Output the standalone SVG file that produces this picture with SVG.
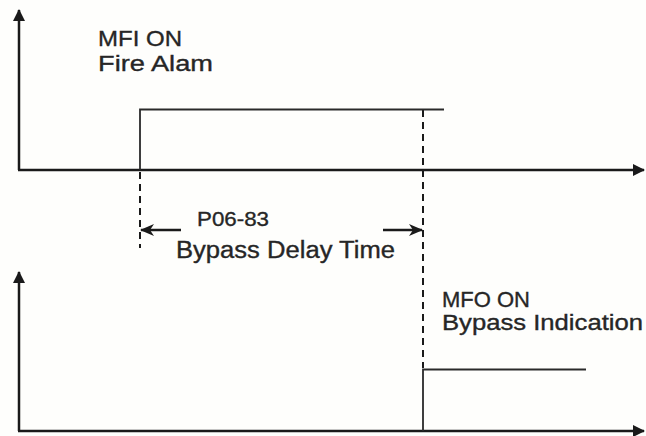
<svg xmlns="http://www.w3.org/2000/svg" width="646" height="436" viewBox="0 0 646 436">
  <style>
    .axis { stroke: #1a1a1a; stroke-width: 2.5; fill: none; }
    .sig { stroke: #2a2a2a; stroke-width: 1.8; fill: none; }
    .dash { stroke: #1a1a1a; stroke-width: 2; stroke-dasharray: 7 5; fill: none; }
    .dim { stroke: #1a1a1a; stroke-width: 2.5; fill: none; }
    .lbl { font-family: "Liberation Sans", Arial, sans-serif; fill: #262626; stroke: #262626; stroke-width: 0.35; }
  </style>
  <defs>
    <marker id="axhead" markerUnits="userSpaceOnUse" viewBox="0 0 12 12" refX="11" refY="6" markerWidth="12" markerHeight="12" orient="auto">
      <path d="M0,0 L12,6 L0,12 Z" fill="#1a1a1a"/>
    </marker>
    <marker id="dimhead" markerUnits="userSpaceOnUse" viewBox="0 0 14 12" refX="13" refY="6" markerWidth="14" markerHeight="12" orient="auto">
      <path d="M0,0 L14,6 L0,12 L4,6 Z" fill="#1a1a1a"/>
    </marker>
  </defs>
  <rect width="646" height="436" fill="#fefefc"/>

  <g id="connectors">
    <path class="axis" d="M19,170 L19,10" marker-end="url(#axhead)"/>
    <path class="axis" d="M18,170 L644,170" marker-end="url(#axhead)"/>
    <path class="axis" d="M19,431 L19,272" marker-end="url(#axhead)"/>
    <path class="axis" d="M18,431 L644,431" marker-end="url(#axhead)"/>
    <path class="dash" d="M140,172 L140,248"/>
    <path class="dash" d="M423,110 L423,368"/>
    <path class="dim" d="M181,230 L141,230" marker-end="url(#dimhead)"/>
    <path class="dim" d="M383,230 L422,230" marker-end="url(#dimhead)"/>
  </g>

  <g id="mfi-signal">
    <path class="sig" d="M140,170 L140,109.5 L444,109.5"/>
  </g>
  <g id="mfo-signal">
    <path class="sig" d="M423,431 L423,369.5 L586,369.5"/>
  </g>

  <g id="mfi-label">
    <text class="lbl" x="98" y="45.5" font-size="21.5" textLength="84" lengthAdjust="spacingAndGlyphs">MFI ON</text>
    <text class="lbl" x="98" y="70.5" font-size="22" textLength="115" lengthAdjust="spacingAndGlyphs">Fire Alam</text>
  </g>
  <g id="delay-label">
    <text class="lbl" x="197" y="226" font-size="20.5" textLength="72" lengthAdjust="spacingAndGlyphs">P06-83</text>
    <text class="lbl" x="176" y="257.5" font-size="23" textLength="219" lengthAdjust="spacingAndGlyphs">Bypass Delay Time</text>
  </g>
  <g id="mfo-label">
    <text class="lbl" x="442" y="307" font-size="22" textLength="88" lengthAdjust="spacingAndGlyphs">MFO ON</text>
    <text class="lbl" x="442" y="330" font-size="22" textLength="201" lengthAdjust="spacingAndGlyphs">Bypass Indication</text>
  </g>
</svg>
